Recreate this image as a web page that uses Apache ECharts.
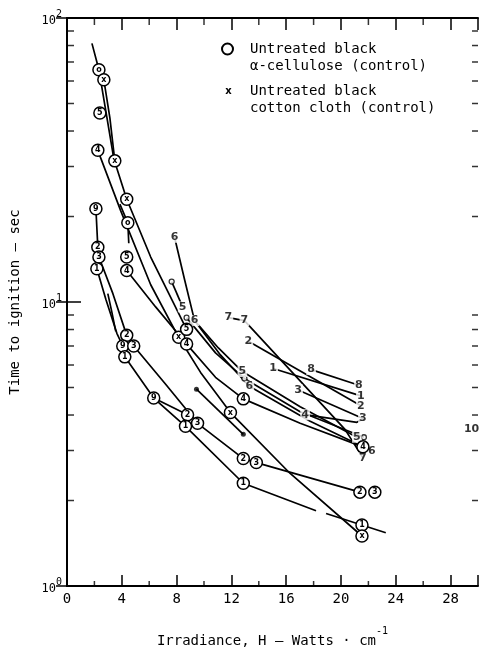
<!DOCTYPE html>
<html><head><meta charset="utf-8">
<script src="https://cdn.jsdelivr.net/npm/echarts@6/dist/echarts.min.js"></script>
<style>html,body{margin:0;padding:0;background:#fff}#c{width:481px;height:653px}</style>
</head><body><div id="c"></div>
<script>
// ---- axis ticks ----
const xTickLabels = [0, 4, 8, 12, 16, 20, 24, 28];
const xMinorTicks = [2, 6, 10, 14, 18, 22, 26];
const yMinorTicks = [2, 3, 4, 5, 6, 7, 8, 9, 20, 30, 40, 50, 60, 70, 80, 90];

// ---- curves (irradiance, time to ignition) ----
const curveTopO = [[1.82,81.4],[2.33,65.7],[3.42,31.9],[4.36,23.0],[6.11,14.4],[8.73,8.01]];
const curveTopX = [[2.69,60.6],[3.13,44.5],[3.49,31.4]];
const curveStubO = [[3.86,22.1],[4.44,19.0],[4.51,16.1]];
const curveC4 = [[2.25,34.2],[3.93,20.9],[6.11,11.5],[8.15,7.51],[9.75,5.65],[11.93,4.08],[16.29,2.49],[21.53,1.50]];
const curveA4 = [[4.36,12.9],[6.47,9.61],[8.73,7.11],[10.84,5.43],[12.87,4.56],[17.02,3.74],[21.6,3.09]];
const curve9to2 = [[2.11,21.3],[2.25,15.6],[2.33,14.4],[3.35,10.7],[4.36,7.63]];
const curve1a = [[2.18,13.1],[2.84,10.2],[3.64,7.76],[4.07,7.00]];
const curveWiggle = [[2.98,10.7],[3.27,9.23],[3.56,7.88]];
const curve3 = [[4.87,7.00],[7.2,5.13],[9.53,3.74],[12.87,2.81],[13.82,2.72],[21.38,2.14]];
const curve1 = [[4.22,6.41],[6.33,4.59],[8.65,3.65],[12.87,2.30],[18.18,1.84]];
const curve1tail = [[18.91,1.80],[23.27,1.54]];
const curve9to2b = [[6.33,4.59],[8.8,4.01]];
const curveSix = [[7.85,16.9],[8.58,12.0],[9.31,8.60]];
const curveFive = [[9.31,8.60],[11.05,6.89],[12.8,5.69],[17.02,4.28],[21.16,3.34]];
const curveZero = [[8.73,8.81],[10.84,6.62],[12.95,5.38],[17.02,4.11],[21.67,3.34]];
const curveSixB = [[9.31,8.60],[11.2,6.51],[13.31,5.05],[17.75,3.80],[22.25,2.99]];
const curveSeven = [[12.95,8.60],[20.29,3.56],[21.6,2.83]];
const curveSevenShort = [[11.78,8.81],[12.95,8.60]];
const curveTwo = [[13.24,7.28],[21.45,4.31]];
const curveOne = [[15.05,5.83],[21.45,4.67]];
const curveEight = [[17.82,5.78],[21.31,5.09]];
const curveThree = [[16.87,4.90],[21.6,3.89]];
const curveFour = [[17.38,4.01],[21.16,3.77],[21.53,3.86]];
const curveFiveShort = [[7.64,11.8],[8.44,9.61]];
const curveNine = [[9.45,4.93],[12.87,3.42]];

// ---- circled markers [x, y, label] ----
const circledCol2 = [[2.33,65.7,'o'],[2.69,60.6,'x'],[2.40,46.3,'5'],[2.25,34.2,'4'],[2.11,21.3,'9'],[2.25,15.6,'2'],[2.33,14.4,'3'],[2.18,13.1,'1']];
const circledCol4 = [[3.49,31.4,'x'],[4.36,23.0,'x'],[4.44,19.0,'o'],[4.36,14.4,'5'],[4.36,12.9,'4'],[4.36,7.63,'2'],[4.07,7.00,'9'],[4.87,7.00,'3'],[4.22,6.41,'1'],[6.33,4.59,'9']];
const circledCol8 = [[8.15,7.51,'x'],[8.73,8.01,'5'],[8.73,7.11,'4'],[8.8,4.01,'2'],[9.53,3.74,'3'],[8.65,3.65,'1']];
const circledCol12 = [[11.93,4.08,'x'],[12.87,4.56,'4'],[12.87,2.81,'2'],[13.82,2.72,'3'],[12.87,2.30,'1']];
const circledCol21 = [[21.6,3.09,'4'],[21.38,2.14,'2'],[22.47,2.14,'3'],[21.53,1.64,'1'],[21.53,1.50,'x']];

// ---- plain number labels [x, y, label] ----
const numberLabels = [[7.85,16.9,'6'],[8.44,9.61,'5'],[9.31,8.60,'6'],[11.78,8.81,'7'],[12.95,8.60,'7'],[13.24,7.28,'2'],[12.8,5.69,'5'],[13.31,5.05,'6'],[15.05,5.83,'1'],[17.82,5.78,'8'],[16.87,4.90,'3'],[17.38,4.01,'4'],[21.31,5.09,'8'],[21.45,4.67,'1'],[21.45,4.31,'2'],[21.6,3.89,'3'],[21.16,3.34,'5'],[22.25,2.99,'6'],[21.6,2.83,'7'],[29.53,3.56,'10']];
const openDots = [[7.64,11.8],[8.73,8.81],[12.95,5.38],[21.67,3.34]];
const filledDots = [[9.45,4.93],[12.87,3.42]];

const curves = [curveTopO, curveTopX, curveStubO, curveC4, curveA4, curve9to2, curve1a, curveWiggle, curve3, curve1, curve1tail, curve9to2b,
  curveSix, curveFive, curveZero, curveSixB, curveSeven, curveSevenShort, curveTwo, curveOne, curveEight, curveThree, curveFour, curveFiveShort, curveNine];
const circled = [].concat(circledCol2, circledCol4, circledCol8, circledCol12, circledCol21);

const INK = '#000';
const MONO = '"DejaVu Sans Mono", monospace';

const series = [];
curves.forEach(c => series.push({
  type: 'line', data: c, symbol: 'none', smooth: false,
  lineStyle: { color: INK, width: 1.7 }, z: 2, silent: true
}));
series.push({
  type: 'scatter', data: openDots, symbol: 'circle', symbolSize: 5,
  itemStyle: { color: '#fff', borderColor: INK, borderWidth: 1.3 }, z: 3, silent: true
});
series.push({
  type: 'scatter', data: filledDots, symbol: 'circle', symbolSize: 5,
  itemStyle: { color: INK }, z: 3, silent: true
});
series.push({
  type: 'scatter', data: numberLabels, symbol: 'circle', symbolSize: 1, clip: false,
  itemStyle: { color: 'rgba(0,0,0,0)' }, z: 4, silent: true,
  label: { show: true, position: 'inside', formatter: p => p.value[2], fontSize: 11, fontWeight: 'bold',
    fontFamily: 'DejaVu Sans', color: INK, backgroundColor: '#fff', padding: [0, 1] }
});
series.push({
  type: 'scatter', data: circled, symbol: 'circle', symbolSize: 12,
  itemStyle: { color: '#fff', borderColor: INK, borderWidth: 1.5, opacity: 1 }, z: 5, silent: true,
  label: { show: true, position: 'inside', formatter: p => p.value[2], fontSize: 8, fontWeight: 'bold',
    fontFamily: 'DejaVu Sans', color: INK }
});
// minor ticks
series.push({ type: 'scatter', data: yMinorTicks.map(v => [0, v]), symbol: 'rect', symbolSize: [7, 1.5], symbolOffset: [3.5, 0], clip: false, itemStyle: { color: INK }, z: 6, silent: true });
series.push({ type: 'scatter', data: yMinorTicks.map(v => [30, v]), symbol: 'rect', symbolSize: [6, 1.5], symbolOffset: [-3, 0], clip: false, itemStyle: { color: INK }, z: 6, silent: true });
series.push({ type: 'scatter', data: xMinorTicks.map(v => [v, 1]), symbol: 'rect', symbolSize: [1.5, 5], symbolOffset: [0, -2.5], clip: false, itemStyle: { color: INK }, z: 6, silent: true });
series.push({ type: 'scatter', data: xMinorTicks.map(v => [v, 100]), symbol: 'rect', symbolSize: [1.5, 7], symbolOffset: [0, 3.5], clip: false, itemStyle: { color: INK }, z: 6, silent: true });

const axisLine = { show: true, lineStyle: { color: INK, width: 2 } };
const chart = echarts.init(document.getElementById('c'), null, { renderer: 'canvas' });
chart.setOption({
  animation: false,
  backgroundColor: '#fff',
  grid: { left: 67, right: 2, top: 18, bottom: 55 },
  xAxis: [{
    type: 'value', min: 0, max: 30, interval: 4, position: 'bottom',
    axisLine, splitLine: { show: false },
    axisTick: { show: true, inside: true, length: 11, lineStyle: { color: INK, width: 1.5 } },
    axisLabel: { formatter: v => xTickLabels.includes(v) ? String(v) : '', fontSize: 14, fontFamily: MONO, color: INK, margin: 6 },
    name: '{a|Irradiance, H — Watts · cm}{s|-1}', nameLocation: 'middle', nameGap: 40,
    nameTextStyle: { rich: {
      a: { fontSize: 14, fontFamily: MONO, color: INK, lineHeight: 22, verticalAlign: 'bottom' },
      s: { fontSize: 10, fontFamily: MONO, color: INK, lineHeight: 8, verticalAlign: 'top' } } }
  }, {
    type: 'value', min: 0, max: 30, interval: 4, position: 'top',
    axisLine, splitLine: { show: false }, axisLabel: { show: false },
    axisTick: { show: true, inside: true, length: 12, lineStyle: { color: INK, width: 1.5 } }
  }],
  yAxis: [{
    type: 'log', logBase: 10, min: 1, max: 100, position: 'left',
    axisLine, splitLine: { show: false }, minorTick: { show: false },
    axisTick: { show: true, inside: true, length: 14, lineStyle: { color: INK, width: 1.5 } },
    axisLabel: { margin: 5, formatter: v => '{b|10}{s|' + Math.round(Math.log10(v)) + '}',
      rich: {
        b: { fontSize: 12, fontFamily: MONO, color: INK, lineHeight: 18, verticalAlign: 'bottom' },
        s: { fontSize: 10, fontFamily: MONO, color: INK, lineHeight: 8, verticalAlign: 'top' } } },
    name: 'Time to ignition — sec', nameLocation: 'middle', nameGap: 45, nameRotate: 90,
    nameTextStyle: { fontSize: 14, fontFamily: MONO, color: INK }
  }, {
    type: 'log', logBase: 10, min: 1, max: 100, position: 'right',
    axisLine, splitLine: { show: false }, axisLabel: { show: false },
    axisTick: { show: true, inside: true, length: 11, lineStyle: { color: INK, width: 1.5 } }
  }],
  graphic: [
    { type: 'circle', shape: { cx: 227.5, cy: 49, r: 5.5 }, style: { fill: '#fff', stroke: INK, lineWidth: 2 } },
    { type: 'text', x: 250, y: 49, style: { text: 'Untreated black', font: '14px ' + MONO, fill: INK, verticalAlign: 'middle' } },
    { type: 'text', x: 250, y: 66, style: { text: 'α-cellulose (control)', font: '14px ' + MONO, fill: INK, verticalAlign: 'middle' } },
    { type: 'text', x: 228.5, y: 91, style: { text: 'x', font: 'bold 10px "DejaVu Sans"', fill: INK, align: 'center', verticalAlign: 'middle' } },
    { type: 'text', x: 250, y: 91.5, style: { text: 'Untreated black', font: '14px ' + MONO, fill: INK, verticalAlign: 'middle' } },
    { type: 'text', x: 250, y: 108.5, style: { text: 'cotton cloth (control)', font: '14px ' + MONO, fill: INK, verticalAlign: 'middle' } }
  ],
  series
});
</script></body></html>
